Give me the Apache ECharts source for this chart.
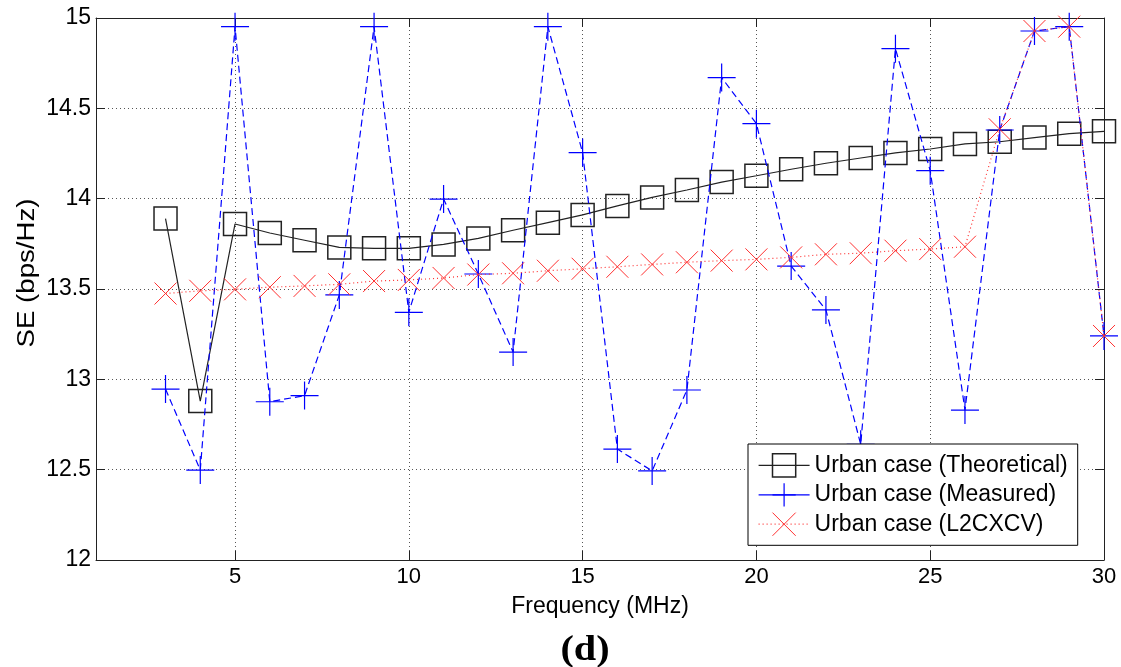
<!DOCTYPE html>
<html>
<head>
<meta charset="utf-8">
<script src="https://cdn.jsdelivr.net/npm/echarts@6/dist/echarts.min.js"></script>
<style>
html,body{margin:0;padding:0;background:#fff;}
#chart{width:1121px;height:667px;}
</style>
</head>
<body>
<div id="chart"></div>
<script>
var freq = [3,4,5,6,7,8,9,10,11,12,13,14,15,16,17,18,19,20,21,22,23,24,25,26,27,28,29,30];
var theoretical = [13.89,12.88,13.86,13.81,13.77,13.73,13.725,13.725,13.747,13.78,13.825,13.867,13.91,13.96,14.007,14.048,14.092,14.127,14.163,14.196,14.225,14.253,14.275,14.303,14.315,14.338,14.36,14.373];
var measured = [12.946,12.498,14.952,12.876,12.91,13.467,14.952,13.371,13.998,13.583,13.151,14.952,14.255,12.614,12.493,12.941,14.67,14.415,13.627,13.384,12.64,14.83,14.155,12.83,14.38,14.928,14.952,13.24];
var l2cxcv = [13.475,13.49,13.498,13.51,13.517,13.526,13.544,13.55,13.561,13.58,13.587,13.601,13.612,13.623,13.636,13.648,13.657,13.664,13.675,13.692,13.698,13.712,13.721,13.734,14.384,14.928,14.952,13.24];
var xTicks = [5,10,15,20,25,30];
var seriesNames = ['Urban case (Theoretical)','Urban case (Measured)','Urban case (L2CXCV)'];
var xName = 'Frequency (MHz)';
var yName = 'SE (bps/Hz)';
var caption = '(d)';

function pairs(vals){ return freq.map(function(f,i){ return [f, vals[i]]; }); }

var FONT = '"Liberation Sans", Arial, Helvetica, sans-serif';
var gridLine = {show:true, lineStyle:{color:'#555', width:1, type:[1,3]}};
var BLACK = '#222', BLUE = '#0000ff', RED = '#ff3030';

var chart = echarts.init(document.getElementById('chart'), null, {renderer:'canvas'});
chart.setOption({
  animation:false,
  backgroundColor:'#fff',
  grid:{left:96, right:17, top:18, bottom:107, containLabel:false},
  legend:{
    orient:'vertical', left:748, top:444,
    padding:[9,10,9,10], itemGap:5, itemWidth:51, itemHeight:29,
    borderColor:'#000', borderWidth:1, backgroundColor:'#fff', borderRadius:0,
    selectedMode:false,
    textStyle:{fontSize:23, color:'#000', fontFamily:FONT},
    data:[
      {name:seriesNames[0], lineStyle:{color:BLACK, type:'solid', width:1.2}, itemStyle:{color:'rgba(0,0,0,0)', borderColor:BLACK, borderWidth:1.5}},
      {name:seriesNames[1], lineStyle:{color:BLUE, type:'solid', width:1.2}, itemStyle:{color:BLUE, borderColor:BLUE, borderWidth:1.2}},
      {name:seriesNames[2], lineStyle:{color:RED, type:[1,3], width:1.2}, itemStyle:{color:RED, borderColor:RED, borderWidth:1}}
    ]
  },
  xAxis:[{
    type:'value', min:1, max:30, position:'bottom',
    name:xName, nameLocation:'middle', nameGap:35,
    nameTextStyle:{fontSize:23, color:'#000', fontFamily:FONT},
    axisLine:{show:true, onZero:false, lineStyle:{color:BLACK, width:1}},
    axisTick:{show:true, inside:true, length:9, customValues:xTicks, lineStyle:{color:BLACK}},
    axisLabel:{show:true, customValues:xTicks, fontSize:22, color:'#000', margin:6, fontFamily:FONT},
    splitLine:gridLine
  },{
    type:'value', min:1, max:30, position:'top',
    axisLine:{show:true, onZero:false, lineStyle:{color:BLACK, width:1}},
    axisTick:{show:true, inside:true, length:9, customValues:xTicks, lineStyle:{color:BLACK}},
    axisLabel:{show:false},
    splitLine:{show:false}
  }],
  yAxis:[{
    type:'value', min:12, max:15, interval:0.5, position:'left',
    axisLine:{show:true, onZero:false, lineStyle:{color:BLACK, width:1}},
    axisTick:{show:true, inside:true, length:9, lineStyle:{color:BLACK}},
    axisLabel:{show:true, fontSize:23, color:'#000', margin:5, fontFamily:FONT},
    splitLine:gridLine
  },{
    type:'value', min:12, max:15, interval:0.5, position:'right',
    axisLine:{show:true, onZero:false, lineStyle:{color:BLACK, width:1}},
    axisTick:{show:true, inside:true, length:9, lineStyle:{color:BLACK}},
    axisLabel:{show:false},
    splitLine:{show:false}
  }],
  graphic:[{
    type:'text', x:28, y:273, rotation:Math.PI/2, scaleX:1.2,
    style:{text:yName, fontSize:23, fill:'#000', fontFamily:FONT, align:'center', verticalAlign:'middle'}
  },{
    type:'text', x:585, y:651, scaleX:1.15,
    style:{text:caption, fontSize:35, fontWeight:'bold', fill:'#000', fontFamily:'"Liberation Serif", "Times New Roman", serif', align:'center', verticalAlign:'middle'}
  }],
  series:[{
    name:seriesNames[0], type:'line', xAxisIndex:0, yAxisIndex:0,
    data:pairs(theoretical),
    symbol:'path://M-1,-1 L1,-1 L1,1 L-1,1 Z', symbolSize:23,
    itemStyle:{color:'rgba(0,0,0,0)', borderColor:BLACK, borderWidth:1.5},
    lineStyle:{color:BLACK, width:1.2, type:'solid'},
    emphasis:{disabled:true}, z:2
  },{
    name:seriesNames[1], type:'line', xAxisIndex:0, yAxisIndex:0,
    data:pairs(measured),
    symbol:'path://M0,-1 L0,1 M-1,0 L1,0', symbolSize:28,
    itemStyle:{color:BLUE, borderColor:BLUE, borderWidth:1.2},
    lineStyle:{color:BLUE, width:1.2, type:[7,4]},
    emphasis:{disabled:true}, z:3
  },{
    name:seriesNames[2], type:'line', xAxisIndex:0, yAxisIndex:0,
    data:pairs(l2cxcv),
    symbol:'path://M-1,-1 L1,1 M-1,1 L1,-1', symbolSize:22,
    itemStyle:{color:RED, borderColor:RED, borderWidth:1},
    lineStyle:{color:RED, width:1.2, type:[1,3]},
    emphasis:{disabled:true}, z:4
  }]
});
</script>
</body>
</html>
